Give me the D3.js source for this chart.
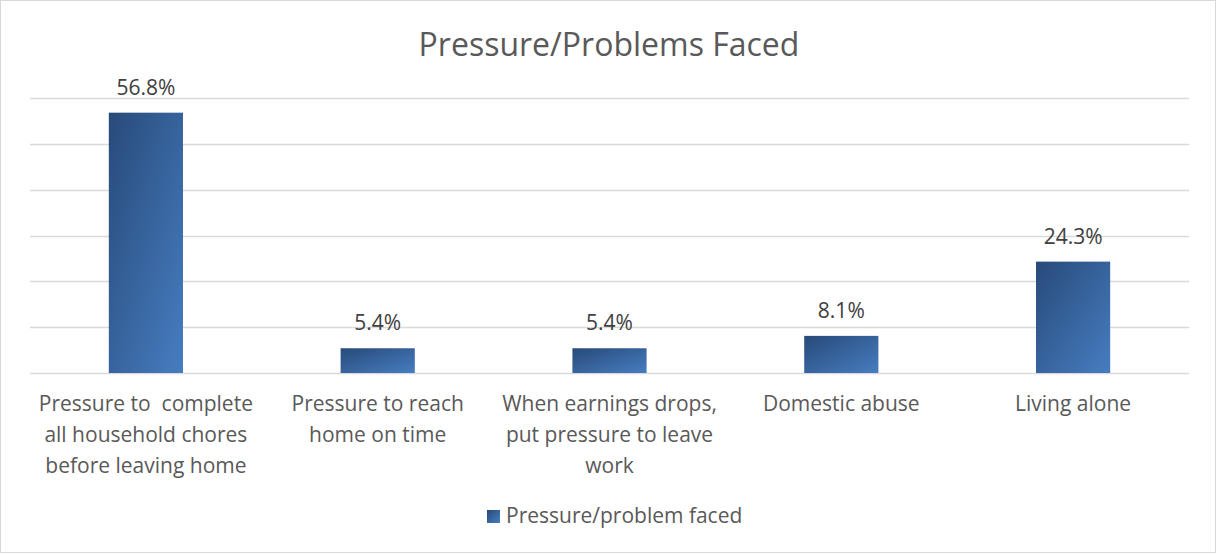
<!DOCTYPE html>
<html>
<head>
<meta charset="utf-8">
<script src="https://cdn.jsdelivr.net/npm/d3@7"></script>
<style>
    body { margin: 0; background: #fff; }
    svg { display: block; font-family: "Open Sans", "Noto Sans", sans-serif; }
</style>
</head>
<body>
<div id="chart"></div>
<script>
var categories = ["c1", "c2", "c3", "c4", "c5"];
var categoryLines = [
    ["Pressure to  complete", "all household chores", "before leaving home"],
    ["Pressure to reach", "home on time"],
    ["When earnings drops,", "put pressure to leave", "work"],
    ["Domestic abuse"],
    ["Living alone"]
];
var values = [56.8, 5.4, 5.4, 8.1, 24.3];
var yTicks = [0, 10, 20, 30, 40, 50, 60];
var seriesName = "Pressure/problem faced";
var chartTitle = "Pressure/Problems Faced";

var W = 1217, H = 554;
var margin = { top: 98, right: 28, bottom: 181, left: 30 };

var svg = d3.select("#chart").append("svg")
    .attr("width", W)
    .attr("height", H);

// chart border
svg.append("rect")
    .attr("x", 0.5).attr("y", 0.5)
    .attr("width", W - 2).attr("height", H - 2)
    .attr("fill", "#fff")
    .attr("stroke", "#d9d9d9");

var defs = svg.append("defs");
var grad = defs.append("linearGradient")
    .attr("id", "barGrad")
    .attr("x1", "0%").attr("y1", "0%")
    .attr("x2", "100%").attr("y2", "100%");
grad.append("stop").attr("offset", "0%").attr("stop-color", "#284a79");
grad.append("stop").attr("offset", "100%").attr("stop-color", "#467dc1");

var x = d3.scaleBand()
    .domain(categories)
    .range([margin.left, W - margin.right])
    .paddingInner(0.68)
    .paddingOuter(0.34);

var y = d3.scaleLinear()
    .domain([0, 60])
    .range([H - margin.bottom, margin.top]);

// gridlines
svg.append("g")
    .selectAll("line")
    .data(yTicks)
    .enter().append("line")
    .attr("x1", margin.left)
    .attr("x2", W - margin.right)
    .attr("y1", function(d) { return Math.round(y(d)) + 0.5; })
    .attr("y2", function(d) { return Math.round(y(d)) + 0.5; })
    .attr("stroke", "#d9d9d9")
    .attr("stroke-width", 1.5);

// bars
svg.append("g")
    .selectAll("rect")
    .data(values)
    .enter().append("rect")
    .attr("x", function(d, i) { return x(categories[i]); })
    .attr("y", function(d) { return y(d); })
    .attr("width", x.bandwidth())
    .attr("height", function(d) { return y(0) - y(d); })
    .attr("fill", "url(#barGrad)");

// value labels
svg.append("g")
    .selectAll("text")
    .data(values)
    .enter().append("text")
    .attr("x", function(d, i) { return x(categories[i]) + x.bandwidth() / 2; })
    .attr("y", function(d) { return y(d) - 18; })
    .attr("text-anchor", "middle")
    .attr("fill", "#404040")
    .style("font-size", "21px")
    .text(function(d) { return d.toFixed(1) + "%"; });

// category labels
var catG = svg.append("g")
    .selectAll("text")
    .data(categoryLines)
    .enter().append("text")
    .attr("text-anchor", "middle")
    .attr("fill", "#595959")
    .style("font-size", "21px");

catG.selectAll("tspan")
    .data(function(d, i) { return d.map(function(l) { return { line: l, i: i }; }); })
    .enter().append("tspan")
    .attr("x", function(d) { return x(categories[d.i]) + x.bandwidth() / 2; })
    .attr("y", function(d, j) { return 411 + j * 31; })
    .attr("xml:space", "preserve")
    .style("white-space", "pre")
    .text(function(d) { return d.line; });

// title
svg.append("text")
    .attr("x", 609)
    .attr("y", 56)
    .attr("text-anchor", "middle")
    .attr("fill", "#595959")
    .style("font-size", "32px")
    .text(chartTitle);

// legend
var legend = svg.append("g");
legend.append("rect")
    .attr("x", 487).attr("y", 510)
    .attr("width", 13).attr("height", 13)
    .attr("fill", "url(#barGrad)");
legend.append("text")
    .attr("x", 506).attr("y", 523)
    .attr("fill", "#595959")
    .style("font-size", "21px")
    .text(seriesName);
</script>
</body>
</html>
